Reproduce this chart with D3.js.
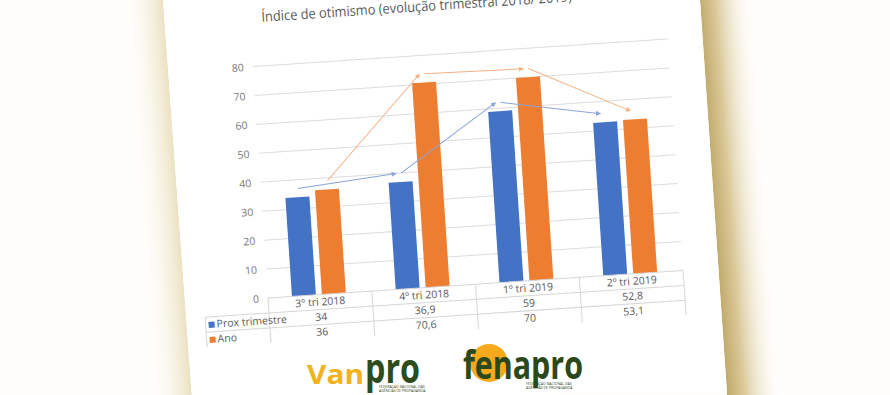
<!DOCTYPE html>
<html>
<head>
<meta charset="utf-8"/>
<script src="https://cdn.jsdelivr.net/npm/d3@7"></script>
<title>Índice de otimismo</title>
<style>
body { margin: 0; background: #fff; }
text { font-family: "Open Sans", "Noto Sans", sans-serif; fill: #595959; }
.ylab { fill: #777; }
.grid { stroke: #dcdcdc; stroke-width: 1; }
.cell { stroke: #d6d6d6; stroke-width: 1; }
</style>
</head>
<body>
<svg width="890" height="395"></svg>
<script>
// data
var categories = ["3º tri 2018", "4º tri 2018", "1º tri 2019", "2º tri 2019"];
var proxTrimestre = [34, 36.9, 59, 52.8];
var ano = [36, 70.6, 70, 53.1];
var yTicks = [0, 10, 20, 30, 40, 50, 60, 70, 80];
var seriesNames = ["Prox trimestre", "Ano"];

var svg = d3.select("svg"),
    width = +svg.attr("width"),
    height = +svg.attr("height");

var defs = svg.append("defs");

// shadows of the photographed sheet
var gr = defs.append("linearGradient").attr("id", "shadowR")
    .attr("gradientUnits", "userSpaceOnUse")
    .attr("x1", 713).attr("y1", 196).attr("x2", 768).attr("y2", 192);
gr.append("stop").attr("offset", 0).attr("stop-color", "#c2aa6c");
gr.append("stop").attr("offset", 0.3).attr("stop-color", "#dac99a");
gr.append("stop").attr("offset", 1).attr("stop-color", "#fffefa").attr("stop-opacity", 0);

var gl = defs.append("linearGradient").attr("id", "shadowL")
    .attr("gradientUnits", "userSpaceOnUse")
    .attr("x1", 177).attr("y1", 196).attr("x2", 135).attr("y2", 199);
gl.append("stop").attr("offset", 0).attr("stop-color", "#ebe2c2");
gl.append("stop").attr("offset", 1).attr("stop-color", "#fffefa").attr("stop-opacity", 0);

svg.append("rect").attr("width", width).attr("height", height).attr("fill", "#fffefc");
svg.append("polygon").attr("points", "700,0 790,0 820,395 727,395").attr("fill", "url(#shadowR)");
svg.append("polygon").attr("points", "120,0 163,0 192,395 150,395").attr("fill", "url(#shadowL)");
svg.append("polygon").attr("points", "163,0 700,0 727,392 192,400").attr("fill", "#ffffff");

// chart, tilted like the sheet in the photo
var g = svg.append("g").attr("transform", "translate(268,298) rotate(-3.8)");

var x = d3.scaleBand().domain(categories).range([0, 416]);
var y = d3.scaleLinear().domain([0, 80]).range([0, -232]);
var fmt = d3.formatLocale({decimal: ",", thousands: ".", grouping: [3], currency: ["R$", ""]}).format("~g");

var series = [
  {name: seriesNames[0], values: proxTrimestre, color: "#4472c4", line: "#8aa3d6", off: 24},
  {name: seriesNames[1], values: ano, color: "#ed7d31", line: "#f4b083", off: 54}
];
var barW = 24;

g.append("text").attr("x", 12).attr("y", -276)
    .attr("textLength", 311).attr("lengthAdjust", "spacingAndGlyphs")
    .style("font-size", "14px")
    .text("Índice de otimismo (evolução trimestral 2018/ 2019)");

g.selectAll(".grid").data(yTicks.filter(function(t) { return t > 0; }))
  .enter().append("line").attr("class", "grid")
    .attr("x1", 0).attr("x2", 416)
    .attr("y1", function(d) { return y(d); }).attr("y2", function(d) { return y(d); });

g.selectAll(".ylab").data(yTicks)
  .enter().append("text").attr("class", "ylab")
    .attr("x", -9).attr("y", function(d) { return y(d) + 4; })
    .attr("text-anchor", "end").style("font-size", "10.5px")
    .text(function(d) { return d; });

series.forEach(function(s) {
  g.selectAll(".bar-" + s.off).data(s.values)
    .enter().append("rect")
      .attr("x", function(d, i) { return x(categories[i]) + s.off; })
      .attr("y", function(d) { return y(d); })
      .attr("width", barW)
      .attr("height", function(d) { return -y(d); })
      .attr("fill", s.color);
});

// hand drawn trend arrows above the bars
series.forEach(function(s, k) {
  var id = "arrow" + k;
  defs.append("marker").attr("id", id)
      .attr("viewBox", "0 0 10 10").attr("refX", 9).attr("refY", 5)
      .attr("markerWidth", 5).attr("markerHeight", 5).attr("orient", "auto")
    .append("path").attr("d", "M0,0L10,5L0,10z").attr("fill", s.line);
  var pairs = d3.pairs(s.values.map(function(v, i) { return {c: categories[i], v: v}; }));
  g.selectAll(".arr-" + k).data(pairs)
    .enter().append("line")
      .attr("x1", function(p) { return x(p[0].c) + s.off + barW / 2 + 1; })
      .attr("y1", function(p) { return y(p[0].v + 3); })
      .attr("x2", function(p) { return x(p[1].c) + s.off + barW / 2 - 4; })
      .attr("y2", function(p) { return y(p[1].v + 3); })
      .attr("stroke", s.line).attr("stroke-width", 1)
      .attr("marker-end", "url(#" + id + ")");
});

// data table
var rowH = 15;
g.append("line").attr("class", "cell").attr("x1", 0).attr("x2", 416).attr("y1", 0).attr("y2", 0);
g.append("line").attr("class", "cell").attr("x1", -64).attr("x2", 416).attr("y1", rowH).attr("y2", rowH);
g.append("line").attr("class", "cell").attr("x1", -64).attr("x2", 416).attr("y1", rowH * 2).attr("y2", rowH * 2);
g.append("line").attr("class", "cell").attr("x1", -64).attr("x2", -64).attr("y1", rowH).attr("y2", rowH * 3);
g.selectAll(".vline").data(categories.concat(["end"]))
  .enter().append("line").attr("class", "cell")
    .attr("x1", function(d, i) { return i * x.bandwidth(); })
    .attr("x2", function(d, i) { return i * x.bandwidth(); })
    .attr("y1", 0).attr("y2", rowH * 3);

g.selectAll(".cat").data(categories)
  .enter().append("text")
    .attr("x", function(d) { return x(d) + x.bandwidth() / 2; })
    .attr("y", rowH - 4).attr("text-anchor", "middle").style("font-size", "10.5px")
    .text(function(d) { return d; });

series.forEach(function(s, k) {
  var ry = rowH * (k + 2) - 4;
  g.append("rect").attr("x", -61).attr("y", ry - 6).attr("width", 6).attr("height", 6).attr("fill", s.color);
  g.append("text").attr("x", -53).attr("y", ry).style("font-size", "10.5px").text(s.name);
  g.selectAll(".val-" + k).data(s.values)
    .enter().append("text")
      .attr("x", function(d, i) { return x(categories[i]) + x.bandwidth() / 2; })
      .attr("y", ry).attr("text-anchor", "middle").style("font-size", "10.5px")
      .text(function(d) { return fmt(d); });
});

// logos
var logo = svg.append("g").style("font-family", "'DejaVu Sans', sans-serif");
logo.append("text").attr("x", 307).attr("y", 384)
    .attr("textLength", 57).attr("lengthAdjust", "spacingAndGlyphs")
    .style("font-size", "26px").style("font-weight", "bold").style("fill", "#f2b21d").text("Van");
logo.append("text").attr("x", 365).attr("y", 383)
    .attr("textLength", 55).attr("lengthAdjust", "spacingAndGlyphs")
    .style("font-size", "42px").style("font-weight", "bold").style("fill", "#2e4b1c").text("pro");
logo.append("text").attr("x", 379).attr("y", 388).style("font-size", "3.5px").style("fill", "#2e4b1c").text("FEDERAÇÃO NACIONAL DAS");
logo.append("text").attr("x", 379).attr("y", 392).style("font-size", "3.5px").style("fill", "#2e4b1c").text("AGÊNCIAS DE PROPAGANDA");

logo.append("circle").attr("cx", 489).attr("cy", 363).attr("r", 19).attr("fill", "#f6a91c");
logo.append("text").attr("x", 463).attr("y", 379)
    .attr("textLength", 120).attr("lengthAdjust", "spacingAndGlyphs")
    .style("font-size", "40px").style("font-weight", "bold").style("fill", "#2b481b").text("fenapro");
logo.append("text").attr("x", 526).attr("y", 385).style("font-size", "3.5px").style("fill", "#2b481b").text("FEDERAÇÃO NACIONAL DAS");
logo.append("text").attr("x", 526).attr("y", 389).style("font-size", "3.5px").style("fill", "#2b481b").text("AGÊNCIAS DE PROPAGANDA");
</script>
</body>
</html>
